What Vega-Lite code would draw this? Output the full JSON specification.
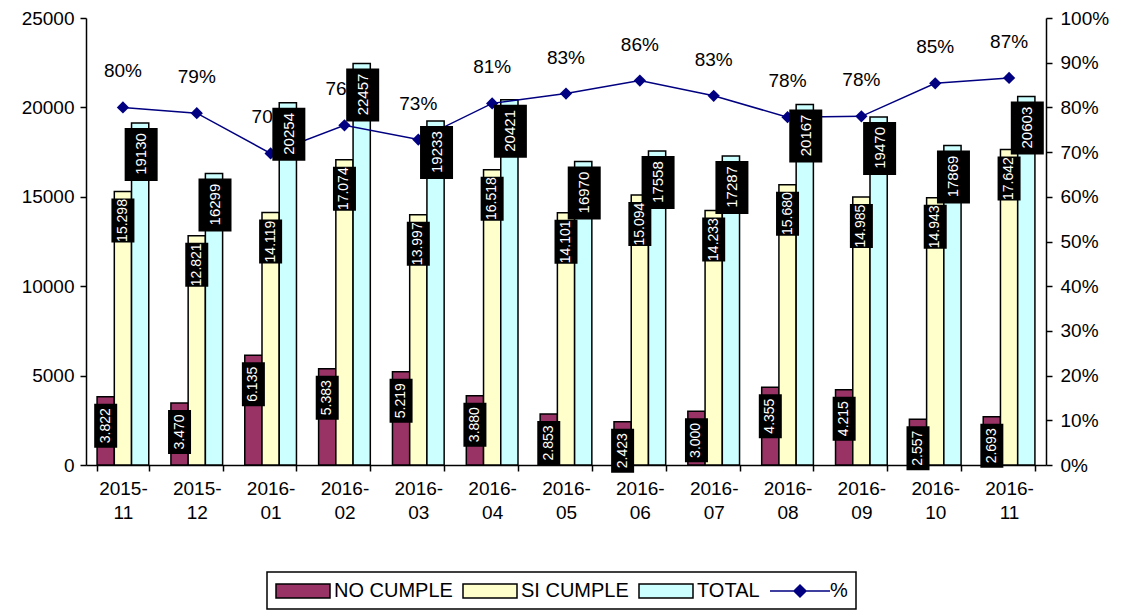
{
  "$schema": "https://vega.github.io/schema/vega-lite/v6.json",
  "width": 960,
  "height": 447,
  "autosize": {"type": "none"},
  "padding": {"left": 86, "top": 18, "right": 80, "bottom": 151},
  "background": "white",
  "config": {
    "view": {"stroke": null},
    "font": "Liberation Sans",
    "locale": {"number": {"decimal": ",", "thousands": ".", "grouping": [3], "currency": ["", ""]}},
    "axis": {"domainColor": "black", "tickColor": "black", "labelColor": "black", "labelFontSize": 19, "labelFont": "Liberation Sans", "grid": false, "title": null, "domainWidth": 1.5, "tickWidth": 1.5, "tickSize": 6},
    "legend": {"strokeColor": "black", "strokeWidth": 1.5, "padding": 8, "labelFontSize": 20, "labelFont": "Liberation Sans", "labelColor": "black", "labelOffset": 37, "columnPadding": 7, "symbolStrokeColor": "black", "symbolStrokeWidth": 1.5, "symbolOpacity": 1}
  },
  "datasets": {
    "bars": [
      {"month": "2015-11", "series": "NO CUMPLE", "value": 3822},
      {"month": "2015-11", "series": "SI CUMPLE", "value": 15298},
      {"month": "2015-11", "series": "TOTAL", "value": 19130},
      {"month": "2015-12", "series": "NO CUMPLE", "value": 3470},
      {"month": "2015-12", "series": "SI CUMPLE", "value": 12821},
      {"month": "2015-12", "series": "TOTAL", "value": 16299},
      {"month": "2016-01", "series": "NO CUMPLE", "value": 6135},
      {"month": "2016-01", "series": "SI CUMPLE", "value": 14119},
      {"month": "2016-01", "series": "TOTAL", "value": 20254},
      {"month": "2016-02", "series": "NO CUMPLE", "value": 5383},
      {"month": "2016-02", "series": "SI CUMPLE", "value": 17074},
      {"month": "2016-02", "series": "TOTAL", "value": 22457},
      {"month": "2016-03", "series": "NO CUMPLE", "value": 5219},
      {"month": "2016-03", "series": "SI CUMPLE", "value": 13997},
      {"month": "2016-03", "series": "TOTAL", "value": 19233},
      {"month": "2016-04", "series": "NO CUMPLE", "value": 3880},
      {"month": "2016-04", "series": "SI CUMPLE", "value": 16518},
      {"month": "2016-04", "series": "TOTAL", "value": 20421},
      {"month": "2016-05", "series": "NO CUMPLE", "value": 2853},
      {"month": "2016-05", "series": "SI CUMPLE", "value": 14101},
      {"month": "2016-05", "series": "TOTAL", "value": 16970},
      {"month": "2016-06", "series": "NO CUMPLE", "value": 2423},
      {"month": "2016-06", "series": "SI CUMPLE", "value": 15094},
      {"month": "2016-06", "series": "TOTAL", "value": 17558},
      {"month": "2016-07", "series": "NO CUMPLE", "value": 3000},
      {"month": "2016-07", "series": "SI CUMPLE", "value": 14233},
      {"month": "2016-07", "series": "TOTAL", "value": 17287},
      {"month": "2016-08", "series": "NO CUMPLE", "value": 4355},
      {"month": "2016-08", "series": "SI CUMPLE", "value": 15680},
      {"month": "2016-08", "series": "TOTAL", "value": 20167},
      {"month": "2016-09", "series": "NO CUMPLE", "value": 4215},
      {"month": "2016-09", "series": "SI CUMPLE", "value": 14985},
      {"month": "2016-09", "series": "TOTAL", "value": 19470},
      {"month": "2016-10", "series": "NO CUMPLE", "value": 2557},
      {"month": "2016-10", "series": "SI CUMPLE", "value": 14943},
      {"month": "2016-10", "series": "TOTAL", "value": 17869},
      {"month": "2016-11", "series": "NO CUMPLE", "value": 2693},
      {"month": "2016-11", "series": "SI CUMPLE", "value": 17642},
      {"month": "2016-11", "series": "TOTAL", "value": 20603}
    ],
    "pct": [
      {"month": "2015-11", "pct": 0.800},
      {"month": "2015-12", "pct": 0.787},
      {"month": "2016-01", "pct": 0.697},
      {"month": "2016-02", "pct": 0.760},
      {"month": "2016-03", "pct": 0.728},
      {"month": "2016-04", "pct": 0.809},
      {"month": "2016-05", "pct": 0.831},
      {"month": "2016-06", "pct": 0.860},
      {"month": "2016-07", "pct": 0.826},
      {"month": "2016-08", "pct": 0.778},
      {"month": "2016-09", "pct": 0.780},
      {"month": "2016-10", "pct": 0.854},
      {"month": "2016-11", "pct": 0.866}
    ]
  },
  "encoding": {
    "x": {
      "field": "month", "type": "nominal", "sort": null,
      "scale": {"paddingInner": 0.3, "paddingOuter": 0.15},
      "axis": {"labelAngle": 0, "tickBand": "extent", "labelExpr": "[slice(datum.label,0,5), slice(datum.label,5)]", "labelPadding": 8, "labelLineHeight": 24, "title": null}
    }
  },
  "layer": [
    {
      "data": {"name": "bars"},
      "mark": {"type": "bar", "stroke": "black", "strokeWidth": 1.5},
      "encoding": {
        "xOffset": {"field": "series", "type": "nominal", "scale": {"domain": ["NO CUMPLE", "SI CUMPLE", "TOTAL"], "paddingInner": 0}},
        "y": {"field": "value", "type": "quantitative", "scale": {"domain": [0, 25000], "nice": false},
              "axis": {"orient": "left", "values": [0, 5000, 10000, 15000, 20000, 25000], "format": "d", "labelPadding": 6}},
        "color": {
          "field": "series", "type": "nominal",
          "scale": {"domain": ["NO CUMPLE", "SI CUMPLE", "TOTAL", "%"], "range": ["#993366", "#FFFFCC", "#CCFFFF", "#000080"]},
          "legend": {
            "title": null, "orient": "none", "legendX": 181, "legendY": 554, "direction": "horizontal", "columns": 4,
            "symbolSize": 400,
            "encode": {
              "symbols": {"update": {
                "shape": {"signal": "datum.value === '%' ? 'M-1.2,0H4.8M1.2,0L1.8,-0.6L2.4,0L1.8,0.6Z' : 'M-1,-0.7H4.4V0.7H-1Z'"},
                "stroke": {"signal": "datum.value === '%' ? '#000080' : '#000000'"},
                "strokeWidth": {"value": 1.5},
                "strokeOpacity": {"value": 1},
                "opacity": {"value": 1},
                "fillOpacity": {"value": 1}
              }}
            }
          }
        }
      }
    },
    {
      "data": {"name": "pct"},
      "layer": [
        {
          "mark": {"type": "line", "strokeWidth": 1.5, "color": "#000080"},
          "encoding": {
            "y": {"field": "pct", "type": "quantitative", "scale": {"domain": [0, 1], "nice": false},
                  "axis": {"orient": "right", "values": [0, 0.1, 0.2, 0.3, 0.4, 0.5, 0.6, 0.7, 0.8, 0.9, 1], "format": ".0%", "labelPadding": 8}}
          }
        },
        {
          "mark": {"type": "point", "shape": "diamond", "filled": true, "size": 150, "opacity": 1, "color": "#000080"},
          "encoding": {
            "y": {"field": "pct", "type": "quantitative"}
          }
        },
        {
          "mark": {"type": "text", "dy": -36, "fontSize": 19, "font": "Liberation Sans", "color": "black"},
          "encoding": {
            "y": {"field": "pct", "type": "quantitative"},
            "text": {"field": "pct", "type": "quantitative", "format": ".0%"}
          }
        }
      ]
    },
    {
      "data": {"name": "bars"},
      "encoding": {
        "xOffset": {"field": "series", "type": "nominal", "scale": {"domain": ["NO CUMPLE", "SI CUMPLE", "TOTAL"], "paddingInner": 0}},
        "y": {"field": "value", "type": "quantitative", "scale": {"domain": [0, 25000], "nice": false}, "axis": null}
      },
      "layer": [
        {
          "transform": [{"filter": "datum.series !== 'TOTAL'"}],
          "mark": {"type": "point", "filled": true, "fill": "black", "strokeWidth": 0, "opacity": 1, "size": 4, "shape": "M-11.5,7H11.5V51H-11.5Z"}
        },
        {
          "transform": [{"filter": "datum.series === 'TOTAL'"}],
          "mark": {"type": "point", "filled": true, "fill": "black", "strokeWidth": 0, "opacity": 1, "size": 4, "shape": "M-15.5,5H17.5V58H-15.5Z"}
        },
        {
          "transform": [{"filter": "datum.series !== 'TOTAL'"}],
          "mark": {"type": "text", "angle": 270, "dx": -29, "align": "center", "baseline": "middle", "fill": "white", "fontSize": 14, "font": "Liberation Sans"},
          "encoding": {"text": {"field": "value", "type": "quantitative", "format": ",d"}}
        },
        {
          "transform": [{"filter": "datum.series === 'TOTAL'"}],
          "mark": {"type": "text", "angle": 270, "dx": -31, "dy": 1, "align": "center", "baseline": "middle", "fill": "white", "fontSize": 15, "font": "Liberation Sans"},
          "encoding": {"text": {"field": "value", "type": "quantitative", "format": "d"}}
        }
      ]
    }
  ],
  "resolve": {"scale": {"y": "independent"}}
}
